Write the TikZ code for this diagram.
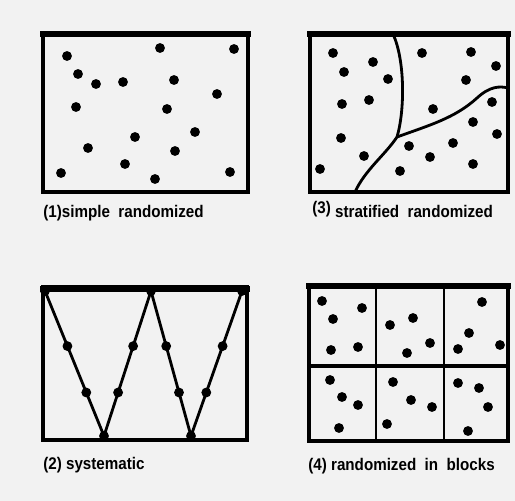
\documentclass[tikz,border=0pt]{standalone}
\usepackage{fontspec}
\setmainfont{Liberation Sans}
\begin{document}
\begin{tikzpicture}[x=0.02cm,y=-0.02cm,
  frame/.style={line width=2.1pt,line join=miter},
  topedge/.style={line width=3.2pt,line cap=rect},
  divider/.style={line width=1.6pt,line cap=round,line join=round},
  pt/.style={circle,fill=black,inner sep=0pt,minimum size=5.6pt},
  caption/.style={anchor=base west,inner sep=0pt,font=\bfseries\fontsize{9.6}{11}\selectfont}]
\fill[black!5] (0,0) rectangle (515,501);
\useasboundingbox (0,0) rectangle (515,501);

% ---------- (1) simple randomized ----------
\draw[frame] (43,34) rectangle (248,192);
\draw[topedge] (43,34) -- (248,34);
\foreach \p [count=\i] in {(67,56),(160,48),(234,49),(78,74),(96,84),(123,82),(174,80),(217,94),(76,107),(167,109),(195,132),(135,137),(88,148),(175,151),(125,164),(61,173),(155,179),(230,172)}
  \node[pt] (a\i) at \p {};
\node[caption] (capa) at (43,217) {\scalebox{0.9}[1]{(1)simple\ \ randomized}};

% ---------- (3) stratified randomized ----------
\draw[frame] (310,34) rectangle (508,192);
\draw[topedge] (310,34) -- (508,34);
\coordinate (s1) at (393,34);
\coordinate (j) at (397,137);
\coordinate (s2) at (355,192);
\coordinate (s3) at (508,88);
\draw[divider] (s1) .. controls (405,60) and (405,110) .. (j)
  .. controls (385,155) and (365,170) .. (s2);
\draw[divider] (j) .. controls (430,125) and (455,118) .. (477,98)
  .. controls (490,86) and (500,86) .. (s3);
\foreach \p [count=\i] in {(333,53),(373,62),(344,72),(388,79),(422,53),(471,52),(496,66),(466,80),(342,104),(369,100),(433,109),(492,102),(473,122),(341,138),(497,134),(409,146),(453,143),(364,156),(430,157),(320,169),(400,171),(473,164)}
  \node[pt] (c\i) at \p {};
\node[caption] (capc) at (312,217) {\scalebox{0.9}[1]{\raisebox{2pt}{(3)} stratified\ \ randomized}};

% ---------- (2) systematic ----------
\draw[frame] (43,287) rectangle (247,440);
\draw[topedge] (43,289) -- (247,289);
\node[pt] (w1) at (45,291) {};
\node[pt] (w2) at (104,436) {};
\node[pt] (w3) at (151,291) {};
\node[pt] (w4) at (191,436) {};
\node[pt] (w5) at (242,291) {};
\draw[divider] (w1.center) -- node[pt,pos=0.38]{} node[pt,pos=0.7]{} (w2.center)
  -- node[pt,pos=0.3]{} node[pt,pos=0.62]{} (w3.center)
  -- node[pt,pos=0.38]{} node[pt,pos=0.7]{} (w4.center)
  -- node[pt,pos=0.3]{} node[pt,pos=0.62]{} (w5.center);
\node[caption] (capb) at (43,469) {\scalebox{0.9}[1]{(2)\ systematic}};

% ---------- (4) randomized in blocks ----------
\draw[frame] (309,286) rectangle (508,441);
\draw[topedge] (309,286) -- (508,286);
\coordinate (v1t) at (376,286); \coordinate (v1b) at (376,441);
\coordinate (v2t) at (444,286); \coordinate (v2b) at (444,441);
\coordinate (hl) at (309,366); \coordinate (hr) at (508,366);
\draw[divider,line cap=butt] (v1t) -- (v1b);
\draw[divider,line cap=butt] (v2t) -- (v2b);
\draw[line width=2.4pt] (hl) -- (hr);
\foreach \p [count=\i] in {(322,301),(362,308),(333,319),(331,350),(358,347),
  (413,318),(390,325),(430,343),(407,353),
  (482,302),(469,333),(458,349),(500,345),
  (330,380),(342,397),(358,405),(339,428),
  (393,382),(411,400),(432,407),(387,424),
  (458,383),(479,388),(488,407),(468,431)}
  \node[pt] (d\i) at \p {};
\node[caption] (capd) at (308,470) {\scalebox{0.9}[1]{(4)\ randomized\ \ in\ \ blocks}};
\end{tikzpicture}
\end{document}
